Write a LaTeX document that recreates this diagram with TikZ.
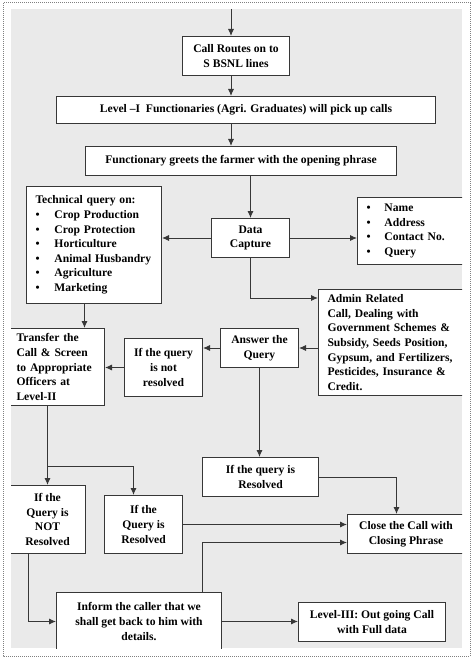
\documentclass[tikz,border=0pt]{standalone}
\usepackage{fontspec}
\setmainfont{Liberation Serif}
\usetikzlibrary{arrows.meta}

\definecolor{edge}{RGB}{55,55,55}
\definecolor{backg}{RGB}{234,234,234}

\tikzset{
    box/.style={draw=edge, line width=1pt, fill=white, anchor=north west,
        font=\bfseries\fontsize{11.6}{14.6}\selectfont, align=center, inner sep=3pt},
    lbox/.style={box, align=left, inner xsep=9pt},
    arr/.style={draw=edge, line width=0.9pt, -{Latex[length=7pt,width=6pt]}},
    frame/.style={draw=gray, densely dotted, line width=1pt},
}
\newcommand{\bul}[1]{\makebox[#1][l]{\textbullet}}

\begin{document}
\begin{tikzpicture}[x=1pt,y=-1pt]
    \useasboundingbox (0,0) rectangle (474,660);
    \draw[frame] (3,3) rectangle (470,656);
    \fill[backg] (11,9) rectangle (462,648);
    \begin{scope}
    \clip (11,9) rectangle (462,648);

    % 1st part: incoming call
    \coordinate (in) at (231,9);
    \node[box, minimum width=107pt, minimum height=39pt] (route) at (182,36) {Call Routes on to\\S BSNL lines};
    \node[box, minimum width=379pt, minimum height=27pt] (level1) at (56,96) {Level –I\ \ Functionaries (Agri. Graduates) will pick up calls};
    \node[box, minimum width=311pt, minimum height=29pt] (greet) at (85,146) {Functionary greets the farmer with the opening phrase};

    % 2nd part: data capture
    \node[box, minimum width=78pt, minimum height=39pt] (data) at (211,218) {Data\\Capture};
    \node[lbox, text width=117pt, minimum height=117pt] (tech) at (26,186) {Technical query on:\\
        \bul{19pt}Crop Production\\
        \bul{19pt}Crop Protection\\
        \bul{19pt}Horticulture\\
        \bul{19pt}Animal Husbandry\\
        \bul{19pt}Agriculture\\
        \bul{19pt}Marketing};
    \node[lbox, text width=100pt, minimum height=67pt] (info) at (357,197) {\bul{18pt}Name\\
        \bul{18pt}Address\\
        \bul{18pt}Contact No.\\
        \bul{18pt}Query};
    \node[lbox, text width=134pt, minimum height=106pt] (admin) at (318,289) {Admin Related\\Call, Dealing with\\Government Schemes \&\\Subsidy, Seeds Position,\\Gypsum, and Fertilizers,\\Pesticides, Insurance \&\\Credit.};

    % 3rd part: answer
    \node[box, minimum width=78pt, minimum height=39pt] (answer) at (220,328) {Answer the\\Query};
    \node[box, minimum width=78pt, minimum height=58pt] (notres) at (124,338) {If the query\\is not\\resolved};
    \node[lbox, inner xsep=7pt, text width=81pt, minimum height=77pt] (transfer) at (9,328) {Transfer the\\Call \& Screen\\\mbox{to Appropriate}\\Officers at\\Level-II};

    % 4th part: resolved or not
    \node[box, minimum width=116pt, minimum height=39pt] (midres) at (202,457) {If the query is\\Resolved};
    \node[box, minimum width=76pt, minimum height=68pt] (ifnot) at (9,485) {If the\\Query is\\NOT\\Resolved};
    \node[box, minimum width=78pt, minimum height=58pt] (ifres) at (104,495) {If the\\Query is\\Resolved};
    \node[box, minimum width=117pt, minimum height=39pt] (close) at (347,514) {Close the Call with\\Closing Phrase};

    % 5th part: call back
    \node[box, minimum width=165pt, minimum height=58pt] (inform) at (56,592) {Inform the caller that we\\shall get back to him with\\details.};
    \node[box, minimum width=147pt, minimum height=39pt] (level3) at (298,602) {Level-III: Out going Call\\with Full data};

    % arrows
    \draw[arr] (in) -- (in |- route.north);
    \draw[arr] (in |- route.south) -- (in |- level1.north);
    \draw[arr] (in |- level1.south) -- (in |- greet.north);
    \draw[arr] (data |- greet.south) -- (data.north);
    \draw[arr] (data.west) -- (data.west -| tech.east);
    \draw[arr] (data.east) -- (data.east -| info.west);
    \draw[arr] (data.south) |- ([yshift=-9pt]admin.north west);
    \draw[arr] (answer.east -| admin.west) -- (answer.east);
    \draw[arr] (answer.west) -- (answer.west -| notres.east);
    \draw[arr] (notres.west) -- (notres.west -| transfer.east);
    \draw[arr] ([xshift=-9.5pt]tech.south) -- ([xshift=-9.5pt]tech.south |- transfer.north);
    \draw[arr] (ifnot.north |- transfer.south) -- (ifnot.north);
    \coordinate (split) at (ifnot.north |- 0,466);
    \draw[arr] (split) -| ([xshift=-10pt]ifres.north);
    \draw[arr] (answer.south) -- (answer.south |- midres.north);
    \draw[arr] (midres.east) -| ([xshift=-9.5pt]close.north);
    \draw[arr] (ifres.east) -- (ifres.east -| close.west);
    \draw[arr] ([xshift=-20pt]inform.north east) |- ([yshift=-8.5pt]close.west);
    \draw[arr] ([xshift=-19.5pt]ifnot.south) |- (inform.west);
    \draw[arr] (inform.east) -- (inform.east -| level3.west);
    \end{scope}
\end{tikzpicture}
\end{document}
